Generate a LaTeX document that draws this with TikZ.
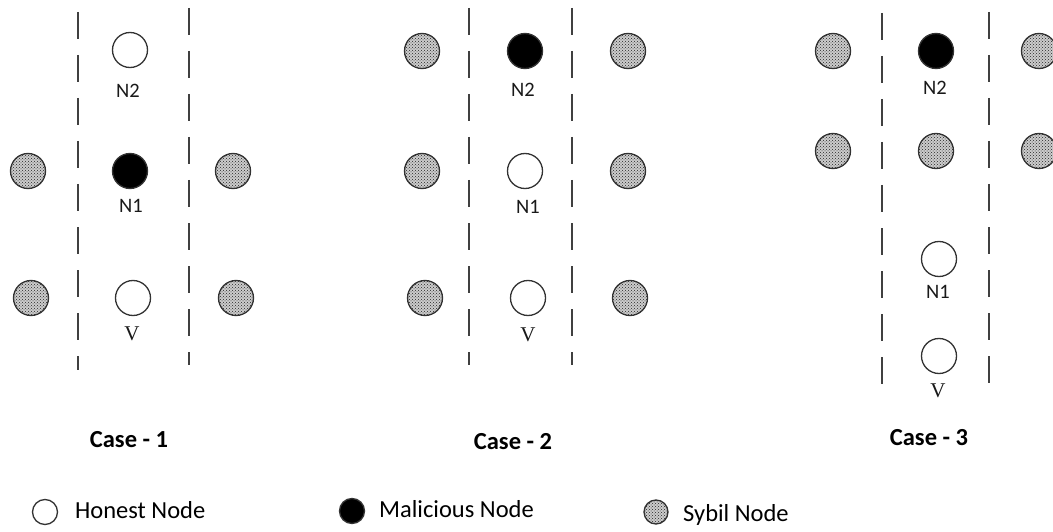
\documentclass[tikz,border=0pt]{standalone}
\usepackage{fontspec}
\setmainfont{Carlito}
\newfontfamily\serifv{Liberation Serif}
\usetikzlibrary{patterns}

\begin{document}
\begin{tikzpicture}[x=1pt,y=-1pt,
  honest/.style={draw=black!80,line width=1.3pt,circle,fill=white,minimum size=35pt,inner sep=0pt},
  malicious/.style={honest,fill=black},
  sybil/.style={honest,fill=gray!40,postaction={pattern=crosshatch dots,pattern color=black!85}},
  lbl/.style={font=\fontsize{20.5}{22}\selectfont,text=black!90,inner sep=0pt},
  vlbl/.style={lbl,font=\serifv\fontsize{21}{22}\selectfont},
  caselbl/.style={font=\bfseries\fontsize{24.5}{26}\selectfont,inner sep=0pt},
  keylbl/.style={font=\fontsize{24.5}{26}\selectfont,anchor=west,inner sep=0pt},
  divider/.style={line width=2pt,draw=black!75,dash pattern=on 27pt off 16pt}]
\useasboundingbox (0,0) rectangle (1053,532);

% dividers
\foreach \x/\ya/\yb in {78/12/370,189/8/365,469/8/365,572/8/365,882/13/387,989/12/385}
  \draw[divider] (\x,\ya) -- (\x,\yb);

% case 1
\node[honest] (c1n2) at (130,50) {};
\node[malicious] (c1n1) at (130,171) {};
\node[honest] (c1v) at (133,298) {};
\node[lbl] (c1n2l) at (128,91) {N2};
\node[lbl] (c1n1l) at (131,206) {N1};
\node[vlbl] (c1vl) at (132,334) {V};
\foreach \n/\x/\y in {c1s1/28/171,c1s2/233/171,c1s3/31/298,c1s4/236/298}
  \node[sybil] (\n) at (\x,\y) {};
\node[caselbl] (case1) at (129,440) {Case - 1};

% case 2
\node[malicious] (c2n2) at (525,51) {};
\node[honest] (c2n1) at (525,171) {};
\node[honest] (c2v) at (528,298) {};
\node[lbl] (c2n2l) at (523,90) {N2};
\node[lbl] (c2n1l) at (528,207) {N1};
\node[vlbl] (c2vl) at (528,335) {V};
\foreach \n/\x/\y in {c2s1/422/51,c2s2/628/51,c2s3/422/171,c2s4/628/171,c2s5/425/298,c2s6/630/298}
  \node[sybil] (\n) at (\x,\y) {};
\node[caselbl] (case2) at (513,442) {Case - 2};

% case 3
\node[malicious] (c3n2) at (936,51) {};
\node[honest] (c3n1) at (939,259) {};
\node[honest] (c3v) at (939,356) {};
\node[lbl] (c3n2l) at (935,88) {N2};
\node[lbl] (c3n1l) at (938,292) {N1};
\node[vlbl] (c3vl) at (938,391) {V};
\foreach \n/\x/\y in {c3s1/833/51,c3s2/936/151,c3s3/1039/51,c3s4/833/151,c3s5/1039/151}
  \node[sybil] (\n) at (\x,\y) {};
\node[caselbl] (case3) at (929,438) {Case - 3};

% legend
\node[honest,minimum size=25pt] (kh) at (45,512) {};
\node[keylbl] (khl) at (75,510) {Honest Node};
\node[malicious,minimum size=25pt] (km) at (352,511) {};
\node[keylbl] (kml) at (379,509) {Malicious Node};
\node[sybil,minimum size=24pt] (ks) at (656,512) {};
\node[keylbl] (ksl) at (683,515) {Sybil Node};
\end{tikzpicture}
\end{document}
